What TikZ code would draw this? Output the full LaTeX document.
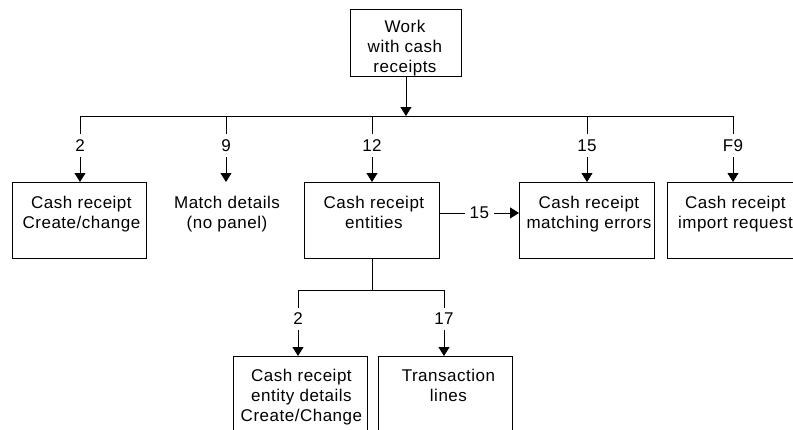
\documentclass[tikz,border=0pt]{standalone}
\usepackage{fontspec}
\setmainfont[LetterSpace=3.0]{Liberation Sans}
\usetikzlibrary{arrows.meta}
\begin{document}
\begin{tikzpicture}[x=1pt,y=-1pt,line width=0.9pt,
  box/.style={draw,inner sep=0pt,anchor=north west},
  txt/.style={anchor=north,inner sep=0pt,align=center,font=\fontsize{17}{20}\selectfont},
  lbl/.style={fill=white,inner xsep=5pt,inner ysep=5.5pt,font=\fontsize{17}{20}\selectfont},
  arr/.style={-{Triangle[width=11pt,length=9pt]}}]
\useasboundingbox (0,0) rectangle (793,429);
\clip (0,0) rectangle (793,429);
% panels
\node[box,minimum width=111pt,minimum height=67pt] (top) at (350,9) {};
\node[box,minimum width=134pt,minimum height=76pt] (b1) at (12,182) {};
\node[box,minimum width=135pt,minimum height=76pt] (b3) at (304,182) {};
\node[box,minimum width=135pt,minimum height=76pt] (b4) at (519,182) {};
\node[box,minimum width=140pt,minimum height=76pt] (b5) at (667,182) {};
\node[box,minimum width=134pt,minimum height=80pt] (b6) at (233,356) {};
\node[box,minimum width=134pt,minimum height=80pt] (b7) at (378,356) {};
% panel titles
\node[txt] (topt) at ([xshift=-1pt,yshift=-11pt]top.north) {Work\\with cash\\receipts};
\node[txt] (b1t) at ([xshift=2pt,yshift=-14pt]b1.north) {Cash receipt\\Create/change};
\coordinate (m) at (226,182);
\node[txt] (mt) at ([xshift=1pt,yshift=-14pt]m) {Match details\\(no panel)};
\node[txt] (b3t) at ([xshift=2pt,yshift=-14pt]b3.north) {Cash receipt\\entities};
\node[txt] (b4t) at ([xshift=2pt,yshift=-14pt]b4.north) {Cash receipt\\matching errors};
\node[txt] (b5t) at ([xshift=-2pt,yshift=-14pt]b5.north) {Cash receipt\\import request};
\node[txt] (b6t) at ([xshift=1pt,yshift=-13pt]b6.north) {Cash receipt\\entity details\\Create/Change};
\node[txt] (b7t) at ([xshift=3pt,yshift=-13pt]b7.north) {Transaction\\lines};
% main distribution bus
\coordinate (d1) at (80,116);
\coordinate (d2) at (226,116);
\coordinate (d3) at (372,116);
\coordinate (d4) at (587,116);
\coordinate (d5) at (733,116);
\draw (d1) -- (d5);
\draw[arr] (top.south) -- (top.south |- d1);
\draw[arr] (d1) -- node[lbl,pos=0.45]{2} (d1 |- b1.north);
\draw[arr] (d2) -- node[lbl,pos=0.45]{9} (m);
\draw[arr] (d3) -- node[lbl,pos=0.45]{12} (d3 |- b3.north);
\draw[arr] (d4) -- node[lbl,pos=0.45]{15} (d4 |- b4.north);
\draw[arr] (d5) -- node[lbl,pos=0.45]{F9} (d5 |- b5.north);
\draw[arr] ([yshift=7.5pt]b3.east) -- node[lbl]{15} ([yshift=7.5pt]b4.west);
% entity branch
\coordinate (s) at ([yshift=-31pt]b3.south);
\coordinate (e1) at (298,290);
\coordinate (e2) at (444,290);
\draw (b3.south) -- (s);
\draw (e1) -- (e2);
\draw[arr] (e1) -- node[lbl,pos=0.44]{2} (e1 |- b6.north);
\draw[arr] (e2) -- node[lbl,pos=0.44]{17} (e2 |- b7.north);
\end{tikzpicture}
\end{document}
